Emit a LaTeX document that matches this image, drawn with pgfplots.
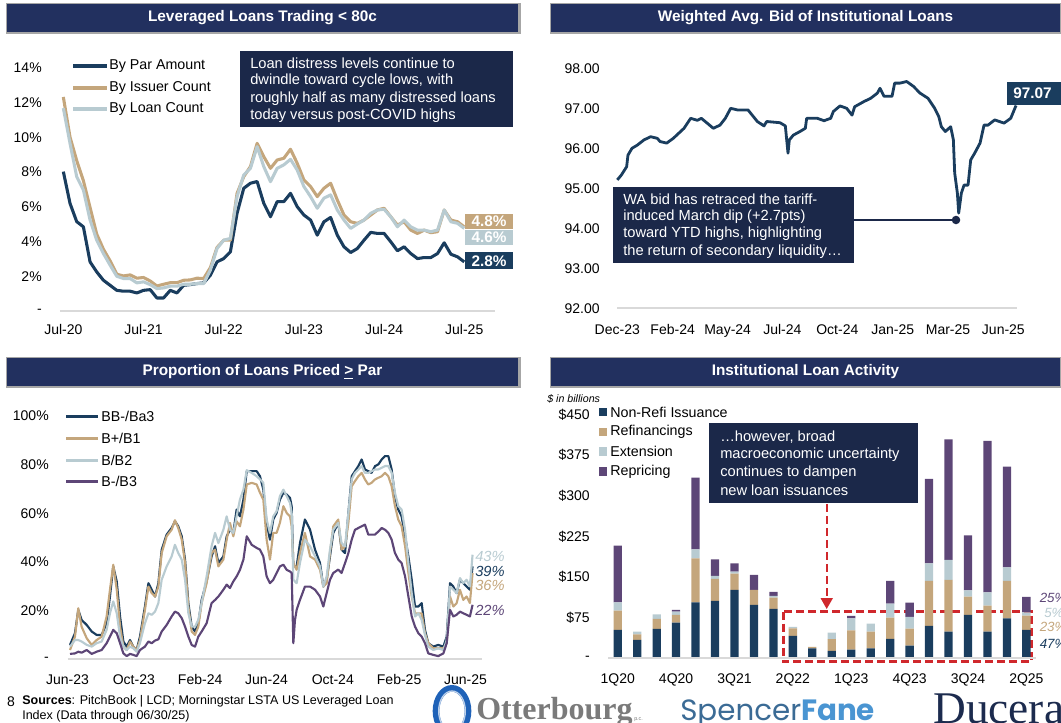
\documentclass[border=0pt]{standalone}
\usepackage{fontspec}
\setmainfont{Liberation Sans}
\newfontfamily\logoserif{Liberation Serif}
\newfontfamily\logosans{Poppins}
\usepackage{pgfplots}
\usepackage{pgfplotstable}
\pgfplotsset{compat=1.18}

\definecolor{titlebg}{HTML}{22305F}
\definecolor{shadowc}{HTML}{A6A6A6}
\definecolor{boxbg}{HTML}{1B2849}
\definecolor{navyc}{HTML}{1A3D5E}
\definecolor{tanc}{HTML}{C4A67C}
\definecolor{lightc}{HTML}{B8CBD1}
\definecolor{purpc}{HTML}{5D4677}
\definecolor{gridc}{HTML}{D9D9D9}
\definecolor{redc}{HTML}{D0282C}
\definecolor{otterblue}{HTML}{1F62B8}
\definecolor{ottergray}{HTML}{7A7A7A}
\definecolor{spencer}{HTML}{3B6B95}
\definecolor{fane}{HTML}{4A95D2}
\definecolor{ducera}{HTML}{1C2B4E}

\newcommand\tickfont{\fontsize{10.5}{12}\selectfont}
\newcommand\titlefont{\fontsize{11.5}{13}\selectfont\bfseries}
\newcommand\legfont{\fontsize{10.7}{12}\selectfont}
\newcommand\notefont{\fontsize{11}{13}\selectfont}

\pgfplotsset{panel/.style={scale only axis, anchor=south west, clip=false,
  enlargelimits=false, axis line style={draw=none}, tick style={draw=none},
  major tick length=0pt, ticklabel style={font=\tickfont, inner sep=0pt},
  yticklabel style={anchor=east}, xticklabel style={anchor=base},
  every axis plot/.append style={line join=round}}}

% ---------- data ----------
\pgfplotstableread{
m par issuer loan
0 8.03 12.33 11.69
1 6.20 10.02 9.66
2 5.15 8.67 7.74
3 4.85 7.51 6.97
4 2.83 5.97 5.24
5 2.25 4.43 4.08
6 1.77 3.56 3.31
7 1.48 2.89 2.64
8 1.19 2.12 2.00
9 1.14 2.02 1.87
10 1.14 2.08 1.87
11 1.04 1.89 1.62
12 1.19 1.93 1.68
13 1.23 1.73 1.52
14 0.75 1.44 1.29
15 0.75 1.54 1.33
16 1.19 1.63 1.43
17 1.04 1.63 1.43
18 1.48 1.77 1.54
19 1.52 1.79 1.54
20 1.58 1.89 1.58
21 1.62 1.87 1.58
22 2.06 2.50 2.35
23 2.83 3.66 3.60
24 3.02 4.08 4.08
25 3.41 4.08 4.18
26 5.63 6.78 6.59
27 7.07 7.74 7.84
28 7.36 8.32 8.22
29 7.46 9.66 9.47
30 6.20 8.89 8.32
31 5.43 8.22 7.45
32 6.30 8.70 8.22
33 6.30 8.80 8.42
34 6.78 9.32 8.74
35 6.01 8.51 8.12
36 5.53 7.55 7.17
37 5.24 7.17 6.59
38 4.37 6.59 5.92
39 5.14 7.07 6.50
40 5.39 7.36 6.69
41 4.37 6.40 5.82
42 3.70 5.53 5.24
43 3.37 5.14 4.76
44 3.60 5.05 5.01
45 4.08 5.24 5.24
46 4.53 5.53 5.63
47 4.47 5.82 5.82
48 4.47 5.92 5.86
49 3.99 5.43 5.43
50 3.47 4.95 4.85
51 3.70 5.14 5.24
52 3.31 4.66 4.85
53 3.02 4.47 4.66
54 3.08 4.66 4.66
55 3.08 4.51 4.57
56 3.31 4.57 4.66
57 3.93 5.82 5.82
58 3.27 5.24 5.14
59 3.12 5.14 5.05
60 2.83 4.85 4.76
}\tltab

\pgfplotstableread{
d bid
0 95.21
3 95.33
7 95.54
8 95.83
11 96.00
15 96.08
20 96.21
25 96.29
30 96.25
32 96.17
37 96.13
42 96.25
50 96.50
55 96.75
60 96.70
63 96.75
67 96.64
72 96.50
77 96.58
81 96.75
85 97.00
90 96.96
98 96.96
105 96.67
110 96.56
112 96.67
122 96.64
126 96.56
128 95.88
129 96.21
132 96.33
137 96.42
141 96.50
142 96.75
150 96.75
155 96.69
160 96.75
162 96.92
167 97.06
172 97.00
176 96.83
178 97.04
185 97.17
190 97.25
195 97.38
197 97.50
200 97.30
206 97.30
208 97.63
212 97.63
217 97.67
222 97.55
227 97.38
233 97.25
238 97.00
241 96.80
243 96.54
246 96.42
250 96.54
252 96.21
253 95.38
255 94.88
256 94.38
258 94.88
260 95.08
263 95.08
265 95.71
268 95.88
272 96.13
275 96.58
278 96.58
283 96.71
290 96.63
295 96.75
299 97.07
}\trtab

\pgfplotstableread{
m bb bp b bm
0.15 5.8 3.7 5.1 2.1
0.45 10.6 9.2 7.8 2.3
0.65 20.2 20.9 7.8 3.0
0.85 16.1 13.3 7.2 2.6
1.16 14.0 8.5 5.8 3.7
1.46 11.3 5.8 5.1 2.1
1.76 9.9 7.8 6.5 3.0
2.06 9.9 9.2 7.2 3.7
2.36 14.7 17.5 12.0 6.5
2.56 25.7 28.5 18.8 9.2
2.76 38.1 38.8 23.7 12.0
2.97 31.9 28.5 18.8 10.6
3.17 17.5 13.3 9.2 6.5
3.37 7.2 5.1 5.1 2.3
3.57 5.1 3.7 3.7 1.2
3.77 7.8 7.2 5.1 2.1
3.97 5.1 5.1 4.4 1.7
4.17 3.7 3.7 3.0 1.2
4.37 9.2 7.8 6.5 3.7
4.67 21.6 20.2 14.7 5.1
4.88 31.2 29.8 18.8 7.2
5.08 28.5 27.1 18.2 6.5
5.28 25.7 25.7 19.5 7.6
5.48 31.2 29.8 23.0 8.1
5.68 45.0 43.6 32.6 11.3
5.98 51.2 50.5 38.1 14.0
6.28 53.9 53.2 42.2 17.5
6.48 56.7 57.1 47.0 19.5
6.68 54.6 53.9 43.6 18.8
6.89 50.5 49.1 40.9 16.8
7.09 40.9 39.5 32.6 13.3
7.29 23.0 21.6 18.8 9.2
7.49 13.3 11.3 13.3 5.8
7.69 11.3 9.9 13.3 5.1
7.89 14.7 13.3 16.1 9.2
8.09 24.3 23.0 23.0 11.3
8.39 31.9 31.2 34.0 14.7
8.69 42.2 43.6 46.4 23.0
8.90 46.4 45.0 51.9 24.3
9.10 39.5 38.1 47.7 25.7
9.40 42.2 40.9 53.2 28.5
9.60 50.5 49.1 58.7 30.6
9.80 53.2 56.0 53.2 29.2
10.00 51.9 50.5 51.9 31.9
10.20 61.5 56.7 58.7 34.0
10.40 58.7 54.6 65.6 36.7
10.61 65.6 61.5 69.7 40.9
10.81 77.3 71.8 77.7 50.5
11.11 77.3 72.5 76.6 47.0
11.41 77.3 71.8 75.2 45.7
11.61 75.2 68.4 73.9 45.0
11.81 69.7 65.6 72.5 42.2
12.01 56.0 49.1 57.4 34.0
12.21 49.1 40.9 51.9 31.2
12.41 57.4 51.9 58.7 32.6
12.61 60.1 51.9 60.8 35.4
12.81 65.6 56.0 67.0 38.1
13.02 68.4 62.9 69.7 38.8
13.22 67.7 60.1 67.0 36.7
13.42 66.3 58.7 64.2 36.0
13.52 62.9 54.6 60.1 35.4
13.62 38.1 39.5 32.6 6.5
13.72 nan nan nan 16.1
13.82 38.1 36.7 31.2 20.2
14.02 47.7 43.6 39.5 24.3
14.32 57.4 51.9 49.1 29.8
14.63 53.2 42.2 46.4 29.8
14.93 45.0 40.9 42.2 28.5
15.23 39.5 36.7 38.1 25.7
15.43 29.8 29.8 29.8 21.6
15.63 32.6 31.2 33.9 27.1
15.83 42.2 43.6 45.0 32.6
16.03 51.9 54.6 53.2 35.4
16.33 56.0 57.4 56.0 36.8
16.53 45.0 45.0 47.7 35.4
16.74 43.6 46.4 46.4 39.5
16.94 60.1 56.0 60.1 43.6
17.14 75.2 71.1 73.9 49.1
17.34 77.3 73.2 76.6 53.2
17.54 79.4 75.2 78.0 53.9
17.74 82.1 76.6 79.4 54.6
17.94 78.0 73.9 76.6 55.3
18.14 77.3 71.8 76.6 51.2
18.34 76.6 72.5 77.3 51.2
18.55 79.4 73.9 78.0 51.2
18.75 80.1 74.6 78.0 52.5
18.95 82.1 75.2 78.7 53.9
19.15 83.5 76.6 79.4 53.2
19.35 83.5 75.2 79.4 51.9
19.55 78.0 71.1 76.6 49.1
19.75 67.0 62.9 68.4 43.6
19.95 61.5 57.4 62.9 40.9
20.15 58.7 54.6 61.5 39.5
20.36 50.5 46.4 53.2 34.0
20.56 42.2 35.4 39.5 25.7
20.76 32.6 25.7 27.1 17.5
20.96 21.6 18.8 17.5 13.3
21.16 21.6 18.8 18.8 10.6
21.36 23.0 18.8 16.1 9.2
21.56 12.0 10.6 9.9 6.5
21.76 6.5 6.5 5.1 2.3
22.06 5.1 4.4 3.7 1.7
22.36 5.8 4.4 4.4 1.2
22.67 5.1 4.4 3.7 2.3
22.87 9.2 6.5 7.8 6.5
23.07 31.2 25.7 29.8 20.2
23.27 29.8 21.6 28.5 17.5
23.47 27.1 23.0 27.1 18.2
23.67 32.6 28.5 33.3 19.5
23.87 31.2 24.3 31.2 18.8
24.07 29.8 25.7 32.6 18.2
24.27 28.5 23.0 29.8 17.5
24.43 38.1 35.4 42.9 22.3
}\bltab

\pgfplotstableread{
i nonrefi refi ext rep
0 52.3 35.6 15.4 104.5
1 33.8 10.5 4.9 0
2 54.1 18.4 8.6 0
3 65.8 14.1 6.2 3.0
4 103.3 81.1 16.6 132.2
5 105.7 40.6 5.5 30.7
6 126.0 30.1 3.7 15.4
7 98.4 27.7 0 27.7
8 91.0 20.9 3.1 7.4
9 41.2 14.1 2.5 0
10 18.4 2.5 0 0
11 13.5 22.1 11.7 0
12 16.0 35.7 22.1 4.3
13 18.4 30.7 14.8 0
14 35.7 39.3 25.8 41.8
15 23.4 31.4 21.5 26.4
16 59.6 83.0 32.6 155.6
17 49.2 95.3 36.9 222.6
18 79.9 33.8 11.7 101.4
19 49.2 48.0 24.6 279.1
20 73.8 68.9 25.2 185.7
21 52.3 26.4 6.1 28.3
}\brtab

\newcommand\titlebar[5]{%
  \fill[shadowc] (#1-1,#2-1) rectangle (#3+2.5,#4+2.5);
  \fill[titlebg] (#1,#2) rectangle (#3,#4);
  \node[text=white, font=\titlefont, inner sep=0pt] at ({(#1+#3)/2},{(#2+#4)/2}) {#5};}

\begin{document}
\begin{tikzpicture}
\useasboundingbox (0,0) rectangle (795.75pt,-542.25pt);
\clip (0,0) rectangle (795.75pt,-542.25pt);

% ---------- frames, titles, texts ----------
\begin{scope}[x=0.75pt,y=-0.75pt]
\titlebar{7}{4}{518}{32}{Leveraged Loans Trading < 80c}
\titlebar{551}{4}{1060}{32}{Weighted Avg. Bid of Institutional Loans}
\titlebar{7}{358}{518}{386}{Proportion of Loans Priced \underline{>} Par}
\titlebar{551}{358}{1060}{386}{Institutional Loan Activity}

% top-left legend
\draw[navyc, line width=2.3pt] (73,66) -- (107,66);
\draw[tanc, line width=2.3pt] (73,88) -- (107,88);
\draw[lightc, line width=2.3pt] (73,109) -- (107,109);
\node[anchor=west, inner sep=0pt, font=\legfont] at (109,66) {By Par Amount};
\node[anchor=west, inner sep=0pt, font=\legfont] at (109,88) {By Issuer Count};
\node[anchor=west, inner sep=0pt, font=\legfont] at (109,109) {By Loan Count};

% top-left annotation
\fill[boxbg] (240,51) rectangle (513,127);
\foreach \t/\yy in {Loan distress levels continue to/63.3, {dwindle toward cycle lows, with}/81, roughly half as many distressed loans/98.3, today versus post-COVID highs/116}
  \node[anchor=west, inner sep=0pt, text=white, font=\notefont] at (250,\yy) {\t};

% top-left end labels
\fill[tanc] (465,214) rectangle (513,229.5);
\node[text=white, font=\fontsize{11.5}{13}\selectfont\bfseries, inner sep=0pt] at (489,221.7) {4.8\%};
\fill[lightc] (465,230) rectangle (513,245.5);
\node[text=white, font=\fontsize{11.5}{13}\selectfont\bfseries, inner sep=0pt] at (489,237.7) {4.6\%};
\fill[navyc] (465,252.5) rectangle (513,269.5);
\node[text=white, font=\fontsize{11.5}{13}\selectfont\bfseries, inner sep=0pt] at (489,261) {2.8\%};

% top-right annotation
\fill[boxbg] (613,187) rectangle (854,263);
\foreach \t/\yy in {WA bid has retraced the tariff-/199, induced March dip (+2.7pts)/216.5, {toward YTD highs, highlighting}/234, the return of secondary liquidity…/252}
  \node[anchor=west, inner sep=0pt, text=white, font=\notefont] at (623,\yy) {\t};
\draw[boxbg, line width=1.6pt] (854,220) -- (956,220);
\fill[boxbg] (956,220) circle (3.2pt);

% 97.07 label
\fill[navyc] (1007,82) rectangle (1065,105);
\node[anchor=west, text=white, font=\fontsize{11.5}{13}\selectfont\bfseries, inner sep=0pt] at (1013,93.5) {97.07};

% bottom-left legend
\draw[navyc, line width=2pt] (66,416.7) -- (98,416.7);
\draw[tanc, line width=2pt] (66,438.3) -- (98,438.3);
\draw[lightc, line width=2pt] (66,460.3) -- (98,460.3);
\draw[purpc, line width=2pt] (66,481.7) -- (98,481.7);
\node[anchor=west, inner sep=0pt, font=\legfont] at (101,416.7) {BB-/Ba3};
\node[anchor=west, inner sep=0pt, font=\legfont] at (101,438.3) {B+/B1};
\node[anchor=west, inner sep=0pt, font=\legfont] at (101,460.3) {B/B2};
\node[anchor=west, inner sep=0pt, font=\legfont] at (101,481.7) {B-/B3};

% bottom-left end labels
\node[anchor=west, inner sep=0pt, text=lightc, font=\fontsize{11}{13}\selectfont\itshape] at (475,556) {43\%};
\node[anchor=west, inner sep=0pt, text=navyc, font=\fontsize{11}{13}\selectfont\itshape] at (475,571) {39\%};
\node[anchor=west, inner sep=0pt, text=tanc, font=\fontsize{11}{13}\selectfont\itshape] at (475,585) {36\%};
\node[anchor=west, inner sep=0pt, text=purpc, font=\fontsize{11}{13}\selectfont\itshape] at (475,610) {22\%};

% bottom-right legend
\node[anchor=west, inner sep=0pt, font=\fontsize{8}{9}\selectfont\itshape] at (547,399) {\$ in billions};
\fill[navyc] (598.5,408) rectangle (606.5,416.5);
\fill[tanc] (598.5,428) rectangle (606.5,436.5);
\fill[lightc] (598.5,447.5) rectangle (606.5,456);
\fill[purpc] (598.5,467.5) rectangle (606.5,476);
\node[anchor=west, inner sep=0pt, font=\legfont] at (610,412.3) {Non-Refi Issuance};
\node[anchor=west, inner sep=0pt, font=\legfont] at (610,432.3) {Refinancings};
\node[anchor=west, inner sep=0pt, font=\legfont] at (610,451.7) {Extension};
\node[anchor=west, inner sep=0pt, font=\legfont] at (610,471.7) {Repricing};

% bottom-right annotation
\fill[boxbg] (709,423) rectangle (918,503);
\foreach \t/\yy in {…however{,} broad/436.7, macroeconomic uncertainty/454.3, continues to dampen/472.3, new loan issuances/490}
  \node[anchor=west, inner sep=0pt, text=white, font=\notefont] at (720,\yy) {\t};
\draw[redc, line width=1.6pt, dash pattern=on 6pt off 3pt] (826.7,504) -- (826.7,600);
\fill[redc] (820.5,598) -- (833,598) -- (826.7,609) -- cycle;
\draw[redc, line width=1.9pt, dash pattern=on 6pt off 3pt] (783.3,611.5) rectangle (1031.5,661.5);

% bottom-right end labels (cut at the right edge, as in the original)
\node[anchor=west, inner sep=0pt, text=purpc, font=\fontsize{10}{12}\selectfont\itshape] at (1039.5,598.3) {25\%};
\node[anchor=west, inner sep=0pt, text=lightc, font=\fontsize{10}{12}\selectfont\itshape] at (1044,612.7) {5\%};
\node[anchor=west, inner sep=0pt, text=tanc, font=\fontsize{10}{12}\selectfont\itshape] at (1039.5,627.3) {23\%};
\node[anchor=west, inner sep=0pt, text=navyc, font=\fontsize{10}{12}\selectfont\itshape] at (1039.5,644.3) {47\%};

% footer
\node[inner sep=0pt, font=\fontsize{10.5}{12}\selectfont] at (11,702) {8};
\node[anchor=west, inner sep=0pt, font=\fontsize{9.4}{11}\selectfont] at (22,701) {\textbf{Sources}: PitchBook | LCD; Morningstar LSTA US Leveraged Loan};
\node[anchor=west, inner sep=0pt, font=\fontsize{9.4}{11}\selectfont] at (22,716) {Index (Data through 06/30/25)};

% logos
\draw[otterblue, line width=5pt] (452,711) ellipse (12pt and 17pt);
\draw[white!70!otterblue, line width=1pt] (452,711) ellipse (10pt and 15pt);
\node[anchor=base west, inner sep=0pt, text=ottergray, font=\logoserif\bfseries\fontsize{24}{24}\selectfont] at (476,719) {Otterbourg};
\node[anchor=base west, inner sep=0pt, text=ottergray, font=\fontsize{4}{4}\selectfont] at (634,720) {p.c.};
\node[anchor=base west, inner sep=0pt, font=\logosans\fontsize{22}{22}\selectfont] at (680,720) {\textcolor{spencer}{Spencer}\textcolor{fane}{\bfseries Fane}};
\node[anchor=base west, inner sep=0pt, text=ducera, font=\logoserif\fontsize{34}{34}\selectfont] at (933,723) {Ducera};
\end{scope}

% ---------- top-left: Leveraged loans trading < 80c ----------
\begin{axis}[panel, at={(45pt,-233.25pt)}, width=326.25pt, height=182.25pt,
  xmin=-0.5, xmax=64.6, ymin=0, ymax=14,
  xtick={0,12,24,36,48,60}, xticklabels={Jul-20,Jul-21,Jul-22,Jul-23,Jul-24,Jul-25},
  ytick={0,2,...,14}, yticklabels={-,2\%,4\%,6\%,8\%,10\%,12\%,14\%},
  yticklabel style={xshift=-13.5pt}, xticklabel style={yshift=-18pt}]
\draw[gridc, line width=1.5pt] (rel axis cs:0,0) -- (rel axis cs:1,0);
\addplot[navyc, line width=2.3pt] table[x=m, y=par] {\tltab};
\addplot[tanc, line width=2.3pt] table[x=m, y=issuer] {\tltab};
\addplot[lightc, line width=2.3pt] table[x=m, y=loan] {\tltab};
\end{axis}

% ---------- top-right: WA bid ----------
\begin{axis}[panel, at={(462.98pt,-231.23pt)}, width=299.55pt, height=180pt,
  xmin=0, xmax=299.5, ymin=92, ymax=98,
  xtick={0,41.5,82.75,123.75,165,206.5,248,289.5},
  xticklabels={Dec-23,Feb-24,May-24,Jul-24,Oct-24,Jan-25,Mar-25,Jun-25},
  ytick={92,93,...,98}, yticklabels={92.00,93.00,94.00,95.00,96.00,97.00,98.00},
  yticklabel style={xshift=-13pt}, xticklabel style={yshift=-20pt}]
\draw[gridc, line width=1.5pt] (rel axis cs:0,0) -- (rel axis cs:1,0);
\addplot[navyc, line width=2.1pt] table[x=d, y=bid] {\trtab};
\end{axis}

% ---------- bottom-left: proportion priced >= par ----------
\begin{axis}[panel, at={(50.63pt,-494.25pt)}, width=310.88pt, height=182.25pt,
  xmin=0, xmax=25, ymin=0, ymax=100,
  xtick={0,4,...,24}, xticklabels={Jun-23,Oct-23,Feb-24,Jun-24,Oct-24,Feb-25,Jun-25},
  ytick={0,20,...,100}, yticklabels={-,20\%,40\%,60\%,80\%,100\%},
  yticklabel style={xshift=-13.9pt}, xticklabel style={yshift=-18.75pt}]
\draw[gridc, line width=1.5pt] (rel axis cs:0,0) -- (rel axis cs:1,0);
\addplot[navyc, line width=1.6pt] table[x=m, y=bb] {\bltab};
\addplot[tanc, line width=1.6pt] table[x=m, y=bp] {\bltab};
\addplot[lightc, line width=1.6pt] table[x=m, y=b] {\bltab};
\addplot[purpc, line width=1.6pt] table[x=m, y=bm] {\bltab};
\end{axis}

% ---------- bottom-right: institutional loan activity ----------
\begin{axis}[panel, ybar stacked, bar width=6.2pt, at={(456pt,-493.73pt)}, width=321.08pt, height=183pt,
  xmin=-0.5, xmax=21.5, ymin=0, ymax=450,
  xtick={0,3,...,21}, xticklabels={1Q20,4Q20,3Q21,2Q22,1Q23,4Q23,3Q24,2Q25},
  ytick={0,75,...,450}, yticklabels={-,\$75,\$150,\$225,\$300,\$375,\$450},
  yticklabel style={xshift=-13.5pt}, xticklabel style={yshift=-18.75pt}]
\draw[gridc, line width=1.5pt] (rel axis cs:0,0) -- (rel axis cs:1,0);
\addplot[fill=navyc, draw=none] table[x=i, y=nonrefi] {\brtab};
\addplot[fill=tanc, draw=none] table[x=i, y=refi] {\brtab};
\addplot[fill=lightc, draw=none] table[x=i, y=ext] {\brtab};
\addplot[fill=purpc, draw=none] table[x=i, y=rep] {\brtab};
\end{axis}
\end{tikzpicture}
\end{document}
